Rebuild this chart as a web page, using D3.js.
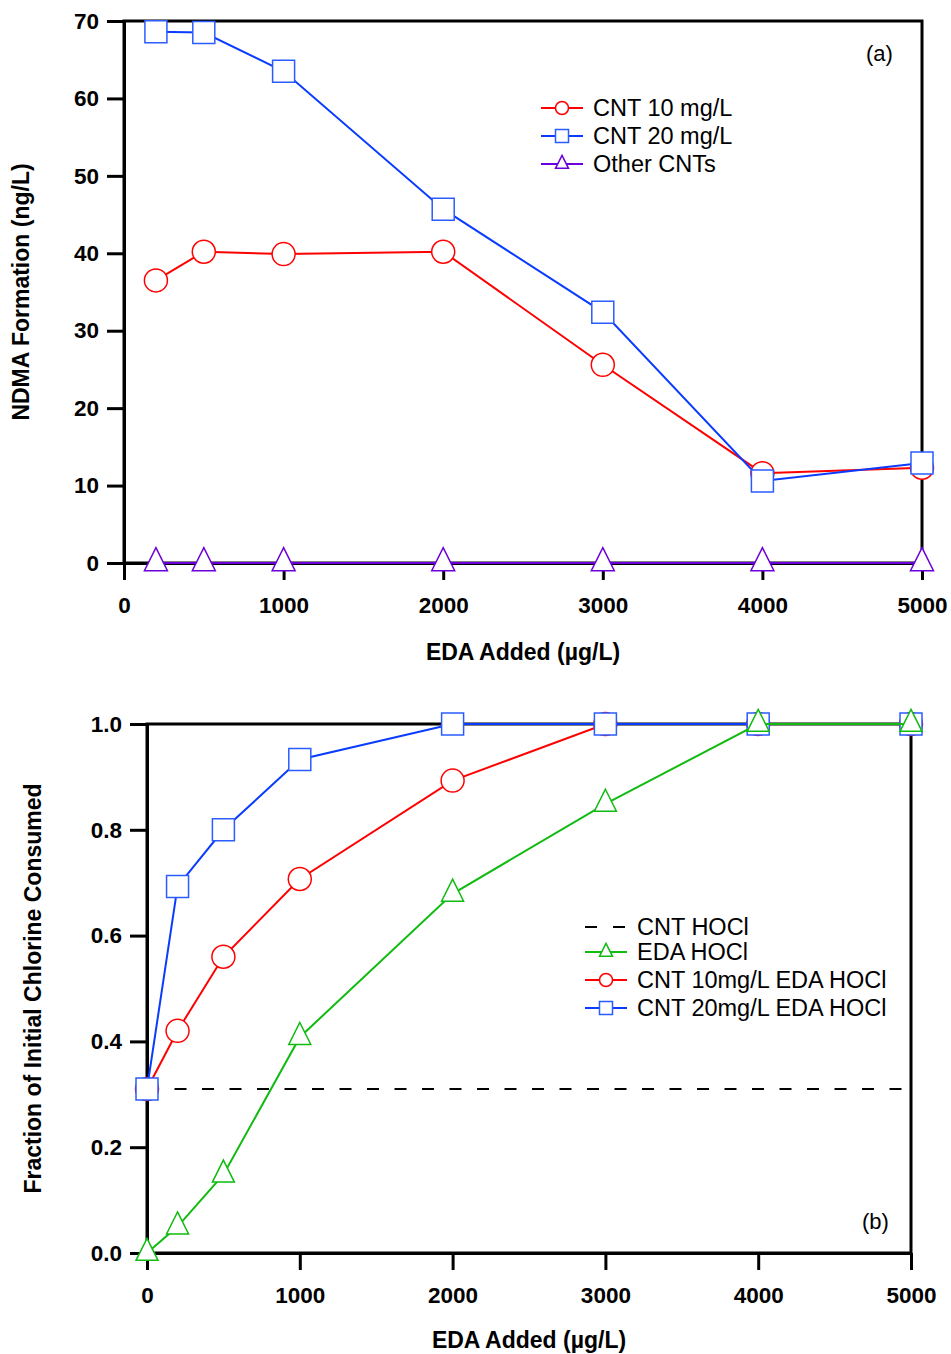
<!DOCTYPE html>
<html>
<head>
<meta charset="utf-8">
<script src="https://cdn.jsdelivr.net/npm/d3@7"></script>
<style>
  body { margin: 0; background: #fff; }
  svg { display: block; font-family: "Liberation Sans", Arial, sans-serif; }
</style>
</head>
<body>
<svg id="chart" width="951" height="1354"></svg>
<script>
// panel (a) data
var edaTop = [200, 500, 1000, 2000, 3000, 4000, 5000];
var ndmaCnt10 = [36.5, 40.2, 39.9, 40.2, 25.6, 11.6, 12.3];
var ndmaCnt20 = [68.6, 68.5, 63.5, 45.7, 32.4, 10.6, 12.9];
var ndmaOther = [0, 0, 0, 0, 0, 0, 0];
var topXTicks = [0, 1000, 2000, 3000, 4000, 5000];
var topYTicks = [0, 10, 20, 30, 40, 50, 60, 70];
var topLegend = ["CNT 10 mg/L", "CNT 20 mg/L", "Other CNTs"];

// panel (b) data
var edaBottom = [0, 200, 500, 1000, 2000, 3000, 4000, 5000];
var clEda = [0.0, 0.05, 0.148, 0.408, 0.679, 0.849, 1.0, 1.0];
var clCnt10 = [0.31, 0.42, 0.56, 0.707, 0.893, 1.0, 1.0, 1.0];
var clCnt20 = [0.31, 0.693, 0.80, 0.933, 1.0, 1.0, 1.0, 1.0];
var clCntHocl = 0.31;
var botXTicks = [0, 1000, 2000, 3000, 4000, 5000];
var botYTicks = [0, 0.2, 0.4, 0.6, 0.8, 1.0];
var botLegend = ["CNT HOCl", "EDA HOCl", "CNT 10mg/L EDA HOCl", "CNT 20mg/L EDA HOCl"];

var RED = "#ff0000", BLUE = "#0a3cff", BLUE_MK = "#2a5cff", PURPLE = "#6c00dc", GREEN = "#11bb11";

var svg = d3.select("#chart");

function shape(kind, s) {
  if (kind == "circle") {
    var r = s / 2;
    return "M" + r + ",0A" + r + "," + r + " 0 1 1 " + (-r) + ",0A" + r + "," + r + " 0 1 1 " + r + ",0Z";
  }
  if (kind == "square") {
    return "M" + (-s/2) + "," + (-s/2) + "h" + s + "v" + s + "h" + (-s) + "Z";
  }
  // triangle, centred on its centroid
  return "M0," + (-2*s/3) + "L" + (s/2) + "," + (s/3) + "L" + (-s/2) + "," + (s/3) + "Z";
}

function drawSeries(g, x, y, xs, ys, color, mkColor, kind, size) {
  var pts = xs.map(function(d, i) { return [d, ys[i]]; });
  g.append("path")
    .datum(pts)
    .attr("fill", "none")
    .attr("stroke", color)
    .attr("stroke-width", 2)
    .attr("d", d3.line().x(function(d) { return x(d[0]); }).y(function(d) { return y(d[1]); }));
  g.selectAll(null).data(pts).enter().append("path")
    .attr("transform", function(d) { return "translate(" + x(d[0]) + "," + y(d[1]) + ")"; })
    .attr("d", shape(kind, size))
    .attr("fill", "#fff")
    .attr("stroke", mkColor)
    .attr("stroke-width", 1.5);
}

function drawFrame(g, x, y, box, xTicks, yTicks, yFmt, xTitle, yTitle, yTitleX, xTitleGap) {
  g.append("rect")
    .attr("x", box.l).attr("y", box.t)
    .attr("width", box.r - box.l).attr("height", box.b - box.t)
    .attr("fill", "none").attr("stroke", "#000").attr("stroke-width", 3);

  var xa = g.append("g").attr("transform", "translate(0," + box.b + ")")
    .call(d3.axisBottom(x).tickValues(xTicks).tickSize(17).tickSizeOuter(0).tickPadding(17).tickFormat(d3.format("d")));
  var ya = g.append("g").attr("transform", "translate(" + box.l + ",0)")
    .call(d3.axisLeft(y).tickValues(yTicks).tickSize(17).tickSizeOuter(0).tickPadding(8).tickFormat(yFmt));
  [xa, ya].forEach(function(a) {
    a.select(".domain").attr("stroke-width", 3);
    a.selectAll(".tick line").attr("stroke-width", 3);
    a.selectAll(".tick text")
      .attr("fill", "#000")
      .style("font-size", "22.5px")
      .style("font-weight", "bold");
  });

  g.append("text")
    .attr("x", (box.l + box.r) / 2).attr("y", box.b + xTitleGap)
    .attr("text-anchor", "middle")
    .style("font-size", "23px").style("font-weight", "bold")
    .text(xTitle);
  g.append("text")
    .attr("transform", "translate(" + yTitleX + "," + ((box.t + box.b) / 2) + ") rotate(-90)")
    .attr("text-anchor", "middle")
    .attr("dy", "0.35em")
    .style("font-size", "23px").style("font-weight", "bold")
    .text(yTitle);
}

function legendRow(g, x0, yRow, color, mkColor, kind, label, dashed) {
  var line = g.append("line")
    .attr("x1", x0).attr("x2", x0 + 42)
    .attr("y1", yRow).attr("y2", yRow)
    .attr("stroke", color).attr("stroke-width", 2);
  if (dashed) {
    line.attr("stroke-dasharray", "12,16");
  } else {
    g.append("path")
      .attr("transform", "translate(" + (x0 + 21) + "," + yRow + ")")
      .attr("d", shape(kind, 13))
      .attr("fill", "#fff").attr("stroke", mkColor).attr("stroke-width", 1.5);
  }
  g.append("text")
    .attr("x", x0 + 52).attr("y", yRow).attr("dy", "0.35em")
    .style("font-size", "23.5px")
    .text(label);
}

// ---- panel (a)
var boxA = {l: 124, t: 21, r: 922, b: 563};
var xA = d3.scaleLinear().domain([0, 5000]).range([boxA.l, boxA.r]);
var yA = d3.scaleLinear().domain([0, 70]).range([boxA.b, boxA.t]);
var gA = svg.append("g");
drawFrame(gA, xA, yA, boxA, topXTicks, topYTicks, d3.format("d"), "EDA Added (\u00b5g/L)", "NDMA Formation (ng/L)", 21, 97);
drawSeries(gA, xA, yA, edaTop, ndmaCnt10, RED, RED, "circle", 23);
drawSeries(gA, xA, yA, edaTop, ndmaCnt20, BLUE, BLUE_MK, "square", 22);
drawSeries(gA, xA, yA, edaTop, ndmaOther, PURPLE, PURPLE, "triangle", 23);
gA.append("text").attr("x", 866).attr("y", 61).style("font-size", "22px").text("(a)");
legendRow(gA, 541, 108, RED, RED, "circle", topLegend[0]);
legendRow(gA, 541, 136, BLUE, BLUE_MK, "square", topLegend[1]);
legendRow(gA, 541, 164, PURPLE, PURPLE, "triangle", topLegend[2]);

// ---- panel (b)
var boxB = {l: 147, t: 724, r: 911, b: 1253};
var xB = d3.scaleLinear().domain([0, 5000]).range([boxB.l, boxB.r]);
var yB = d3.scaleLinear().domain([0, 1]).range([boxB.b, boxB.t]);
var gB = svg.append("g");
drawFrame(gB, xB, yB, boxB, botXTicks, botYTicks, d3.format(".1f"), "EDA Added (\u00b5g/L)", "Fraction of Initial Chlorine Consumed", 33, 95);
gB.append("line")
  .attr("x1", xB(0)).attr("x2", xB(5000))
  .attr("y1", yB(clCntHocl)).attr("y2", yB(clCntHocl))
  .attr("stroke", "#000").attr("stroke-width", 2).attr("stroke-dasharray", "12,15.5");
drawSeries(gB, xB, yB, edaBottom, clCnt10, RED, RED, "circle", 23);
drawSeries(gB, xB, yB, edaBottom, clCnt20, BLUE, BLUE_MK, "square", 22);
drawSeries(gB, xB, yB, edaBottom, clEda, GREEN, GREEN, "triangle", 22);
gB.append("text").attr("x", 862).attr("y", 1229).style("font-size", "22px").text("(b)");
legendRow(gB, 585, 927, "#000", "#000", null, botLegend[0], true);
legendRow(gB, 585, 952, GREEN, GREEN, "triangle", botLegend[1]);
legendRow(gB, 585, 980, RED, RED, "circle", botLegend[2]);
legendRow(gB, 585, 1008, BLUE, BLUE_MK, "square", botLegend[3]);
</script>
</body>
</html>
